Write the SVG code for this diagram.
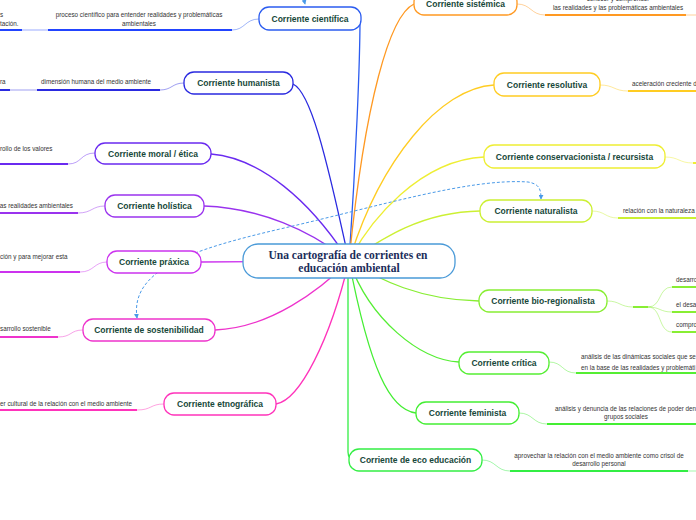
<svg xmlns="http://www.w3.org/2000/svg" width="696" height="520" viewBox="0 0 696 520">
<style>
.bg{fill:#ffffff}
.node{fill:#ffffff;stroke-width:1.3}
.nt{font-family:"Liberation Sans",Arial,sans-serif;font-weight:bold;font-size:8.5px;fill:#17483a;text-anchor:middle}
.st{font-family:"Liberation Sans",Arial,sans-serif;font-size:6.3px;fill:#333333}
.mid{text-anchor:middle}
.end{text-anchor:end}
.con{fill:none;stroke-width:1.3}
.ul{fill:none;stroke-width:2}
.lt{fill:none;stroke-width:1;opacity:0.45}
.rel{fill:none;stroke:#4a9ae8;stroke-width:1;stroke-dasharray:3 2}
.ct{font-family:"Liberation Serif","Times New Roman",serif;font-weight:bold;font-size:11.5px;fill:#1b2d5a;text-anchor:middle}
</style>
<defs>
<marker id="ar" viewBox="0 0 6 6" refX="5" refY="3" markerWidth="5" markerHeight="5" orient="auto-start-reverse" markerUnits="userSpaceOnUse">
<path d="M0,0 L6,3 L0,6 Z" fill="#4a9ae8"/>
</marker>
</defs>
<rect class="bg" x="0" y="0" width="696" height="520"/>

<g id="connectors">
<path class="con" stroke="#2b5cf0" d="M349,261 C356,160 360,60 360,19"/>
<path class="con" stroke="#2a2ae0" d="M293,84 C310,92 325,150 349,261"/>
<path class="con" stroke="#6a2af0" d="M211,154 C260,158 310,200 349,261"/>
<path class="con" stroke="#9a33ee" d="M204,206 C260,208 310,230 349,261"/>
<path class="con" stroke="#cc33ee" d="M201,262 L349,261"/>
<path class="con" stroke="#ee33cc" d="M215,330 C270,328 320,290 349,261"/>
<path class="con" stroke="#ff33bb" d="M276,404 C300,400 330,340 349,261"/>
<path class="con" stroke="#ff9922" d="M414,4 C390,15 365,100 349,261"/>
<path class="con" stroke="#ffcc22" d="M494,85 C440,88 380,160 349,261"/>
<path class="con" stroke="#eeee33" d="M484,157 C420,160 370,220 349,261"/>
<path class="con" stroke="#ccf033" d="M480,211 C420,212 380,240 349,261"/>
<path class="con" stroke="#88ee33" d="M479,301 C420,300 380,280 349,261"/>
<path class="con" stroke="#55ee33" d="M459,362 C420,360 370,320 349,261"/>
<path class="con" stroke="#44ee33" d="M416,413 C390,410 370,370 349,261"/>
<path class="con" stroke="#33ee44" d="M348,261 L348,452 Q348,460 356,460"/>

<path class="lt" stroke="#2b5cf0" d="M259,19 C245,19 245,30 232,30"/>
<path class="ul" stroke="#2244ff" d="M48,30 L232,30"/>
<path class="lt" stroke="#2244ff" d="M22,30 L48,30"/>
<path class="ul" stroke="#2244ff" d="M0,30 L22,30"/>

<path class="lt" stroke="#2a2ae0" d="M184,83 C172,83 172,90 160,90"/>
<path class="ul" stroke="#2a2ae0" d="M37,90 L160,90"/>
<path class="lt" stroke="#2a2ae0" d="M10,90 L37,90"/>
<path class="ul" stroke="#2a2ae0" d="M0,90 L10,90"/>

<path class="lt" stroke="#6a2af0" d="M95,153 C80,153 82,164 68,164"/>
<path class="ul" stroke="#6a2af0" d="M0,164 L68,164"/>

<path class="lt" stroke="#9a33ee" d="M105,206 C92,206 92,213 78,213"/>
<path class="ul" stroke="#9a33ee" d="M0,213 L78,213"/>

<path class="lt" stroke="#cc33ee" d="M107,262 C94,262 94,272 80,272"/>
<path class="ul" stroke="#cc33ee" d="M0,272 L80,272"/>

<path class="lt" stroke="#ee33cc" d="M83,330 C70,330 72,337 58,337"/>
<path class="ul" stroke="#ee33cc" d="M0,337 L58,337"/>

<path class="lt" stroke="#ff33bb" d="M164,404 C150,404 152,410 137,410"/>
<path class="ul" stroke="#ff33bb" d="M0,410 L137,410"/>

<path class="lt" stroke="#ff9922" d="M517,4 C531,4 531,15 545,15"/>
<path class="ul" stroke="#ff9922" d="M545,15 L686,15"/>
<path class="lt" stroke="#ff9922" d="M686,15 L696,15"/>

<path class="lt" stroke="#ffcc22" d="M600,85 C614,85 614,91 628,91"/>
<path class="ul" stroke="#ffcc22" d="M628,91 L696,91"/>

<path class="lt" stroke="#eeee33" d="M665,157 C679,157 679,163 693,163"/>
<path class="ul" stroke="#eeee33" d="M693,163 L696,163"/>

<path class="lt" stroke="#ccf033" d="M592,211 C605,211 605,218 618,218"/>
<path class="ul" stroke="#ccf033" d="M618,218 L696,218"/>

<path class="lt" stroke="#88ee33" d="M607,301 C620,301 620,307 633,307"/>
<path class="ul" stroke="#88ee33" d="M633,307 L648,307"/>
<path class="lt" stroke="#88ee33" d="M648,307 C662,307 658,287 672,287"/>
<path class="lt" stroke="#88ee33" d="M648,307 C660,307 660,312 672,312"/>
<path class="lt" stroke="#88ee33" d="M648,307 C662,307 658,332 672,332"/>
<path class="ul" stroke="#88ee33" d="M672,287 L696,287"/>
<path class="ul" stroke="#88ee33" d="M672,312 L696,312"/>
<path class="ul" stroke="#88ee33" d="M672,332 L696,332"/>

<path class="lt" stroke="#55ee33" d="M549,362 C563,362 562,373 576,373"/>
<path class="ul" stroke="#55ee33" d="M576,373 L696,373"/>

<path class="lt" stroke="#44ee33" d="M519,413 C533,413 533,424 547,424"/>
<path class="ul" stroke="#44ee33" d="M547,424 L696,424"/>

<path class="lt" stroke="#33ee44" d="M482,460 C496,460 496,471 510,471"/>
<path class="ul" stroke="#33ee44" d="M510,471 L688,471"/>
<path class="lt" stroke="#33ee44" d="M688,471 L696,471"/>

<path class="rel" marker-start="url(#ar)" marker-end="url(#ar)" d="M137,318 C130,270 190,250 280,229 C380,206 470,178 528,182 C540,184 541,190 541,199"/>
<path class="rel" marker-end="url(#ar)" d="M303,-4 L305,4"/>
</g>

<g id="central">
<rect x="243" y="244" width="212" height="34" rx="15" fill="#ffffff" stroke="#4a9ad8" stroke-width="1.3"/>
<text class="ct" x="348" y="259">Una cartografía de corrientes en</text>
<text class="ct" x="349" y="271.5">educación ambiental</text>
</g>

<g id="n-cientifica">
<rect class="node" stroke="#2b5cf0" x="259" y="7" width="102" height="23" rx="10"/>
<text class="nt" x="310" y="22">Corriente científica</text>
<text class="st mid" x="139" y="16.5">proceso científico para entender realidades y problemáticas</text>
<text class="st mid" x="139" y="25.5">ambientales</text>
<text class="st" x="0" y="16.5">s</text>
<text class="st" x="0" y="25.5">tación.</text>
</g>

<g id="n-humanista">
<rect class="node" stroke="#2a2ae0" x="184" y="72" width="109" height="22" rx="10"/>
<text class="nt" x="238.5" y="86">Corriente humanista</text>
<text class="st mid" x="96" y="84">dimensión humana del medio ambiente</text>
<text class="st" x="0" y="84">ra</text>
</g>

<g id="n-moral">
<rect class="node" stroke="#6a2af0" x="95" y="143" width="116" height="21" rx="10"/>
<text class="nt" x="153" y="156.5">Corriente moral / ética</text>
<text class="st" x="0" y="151">rollo de los valores</text>
</g>

<g id="n-holistica">
<rect class="node" stroke="#9a33ee" x="105" y="195" width="99" height="22" rx="10"/>
<text class="nt" x="154.5" y="209">Corriente holística</text>
<text class="st end" x="73" y="208">as realidades ambientales</text>
</g>

<g id="n-praxica">
<rect class="node" stroke="#cc33ee" x="107" y="251" width="94" height="22" rx="10"/>
<text class="nt" x="154" y="265">Corriente práxica</text>
<text class="st" x="0" y="259">ción y para mejorar esta</text>
</g>

<g id="n-sostenibilidad">
<rect class="node" stroke="#ee33cc" x="83" y="319" width="132" height="22" rx="10"/>
<text class="nt" x="149" y="333">Corriente de sostenibilidad</text>
<text class="st" x="0" y="331">sarrollo sostenible</text>
</g>

<g id="n-etnografica">
<rect class="node" stroke="#ff33bb" x="164" y="393" width="112" height="22" rx="10"/>
<text class="nt" x="220" y="407">Corriente etnográfica</text>
<text class="st end" x="132" y="406">er cultural de la relación con el medio ambiente</text>
</g>

<g id="n-sistemica">
<rect class="node" stroke="#ff9922" x="414" y="-8" width="103" height="23" rx="10"/>
<text class="nt" x="465.5" y="7">Corriente sistémica</text>
<text class="st mid" x="618" y="1">conocer y comprender</text>
<text class="st mid" x="618" y="10">las realidades y las problemáticas ambientales</text>
</g>

<g id="n-resolutiva">
<rect class="node" stroke="#ffcc22" x="494" y="73" width="106" height="23" rx="10"/>
<text class="nt" x="547" y="87.5">Corriente resolutiva</text>
<text class="st" x="632" y="86">aceleración creciente d</text>
</g>

<g id="n-conservacionista">
<rect class="node" stroke="#eeee33" x="484" y="145" width="181" height="23" rx="10"/>
<text class="nt" x="574.5" y="159.5">Corriente conservacionista / recursista</text>
</g>

<g id="n-naturalista">
<rect class="node" stroke="#ccf033" x="480" y="200" width="112" height="22" rx="10"/>
<text class="nt" x="536" y="214">Corriente naturalista</text>
<text class="st" x="623" y="213">relación con la naturaleza</text>
</g>

<g id="n-bioregionalista">
<rect class="node" stroke="#88ee33" x="479" y="290" width="128" height="22" rx="10"/>
<text class="nt" x="543" y="304">Corriente bio-regionalista</text>
<text class="st" x="676" y="282">desarro</text>
<text class="st" x="676" y="307">el desa</text>
<text class="st" x="676" y="327">compro</text>
</g>

<g id="n-critica">
<rect class="node" stroke="#55ee33" x="459" y="352" width="90" height="22" rx="10"/>
<text class="nt" x="504" y="366">Corriente crítica</text>
<text class="st" x="581" y="359">análisis de las dinámicas sociales que se e</text>
<text class="st" x="581" y="370">en la base de las realidades y problemáti</text>
</g>

<g id="n-feminista">
<rect class="node" stroke="#44ee33" x="416" y="402" width="103" height="22" rx="10"/>
<text class="nt" x="467.5" y="416">Corriente feminista</text>
<text class="st" x="555" y="411">análisis y  denuncia de las relaciones de poder den</text>
<text class="st mid" x="626" y="419">grupos sociales</text>
</g>

<g id="n-eco">
<rect class="node" stroke="#33ee44" x="349" y="449" width="133" height="22" rx="10"/>
<text class="nt" x="415.5" y="463">Corriente de eco educación</text>
<text class="st mid" x="599" y="458">aprovechar la relación con el medio ambiente como crisol de</text>
<text class="st mid" x="599" y="466">desarrollo personal</text>
</g>
</svg>
